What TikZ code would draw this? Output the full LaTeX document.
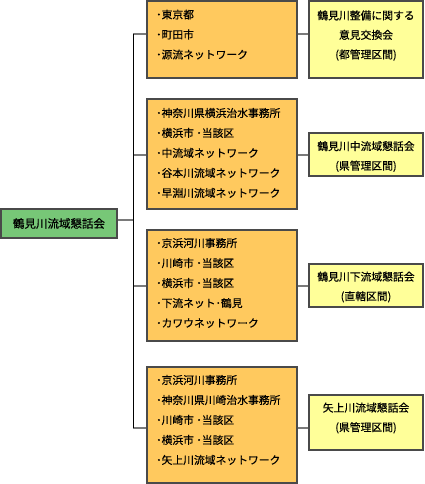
\documentclass[tikz,border=0pt]{standalone}
\usepackage{fontspec}
\setmainfont{Noto Sans CJK JP}[FakeBold=0.35]
\definecolor{ofill}{HTML}{FFC95E}
\definecolor{yfill}{HTML}{FFFF99}
\definecolor{gfill}{HTML}{77C777}
\definecolor{bord}{HTML}{4A4A4A}
\definecolor{branch}{HTML}{7A7A7A}
\begin{document}
\begin{tikzpicture}[x=1pt,y=-1pt,
  box/.style={draw=bord,line width=1.3pt,inner sep=0pt},
  listtext/.style={anchor=west,align=left,inner sep=0pt,font=\fontsize{10.8}{20}\selectfont},
  ctext/.style={anchor=center,align=center,inner sep=0pt,font=\fontsize{10.8}{19.5}\selectfont},
  trunk/.style={black,line width=1pt},
  arm/.style={branch,line width=1.3pt}]
\useasboundingbox (0,0) rectangle (425,484);
% green root
\node[box,fill=gfill,minimum width=116pt,minimum height=29pt] (root) at (59,223.5) {};
\node[ctext,font=\fontsize{11.5}{14}\selectfont] (roott) at (root.center) {鶴見川流域懇話会};
% orange boxes
\node[box,fill=ofill,minimum width=150pt,minimum height=77pt] (o1) at (222,39.5) {};
\node[box,fill=ofill,minimum width=150pt,minimum height=110pt] (o2) at (222,154) {};
\node[box,fill=ofill,minimum width=150pt,minimum height=111pt] (o3) at (222,285.5) {};
\node[box,fill=ofill,minimum width=150pt,minimum height=116pt] (o4) at (222,425) {};
\node[listtext] (t1) at (156,34.5) {･東京都\\･町田市\\･源流ネットワーク};
\node[listtext] (t2) at (156,153) {･神奈川県横浜治水事務所\\･横浜市 ･当該区\\･中流域ネットワーク\\･谷本川流域ネットワーク\\･早淵川流域ネットワーク};
\node[listtext] (t3) at (156,283) {･京浜河川事務所\\･川崎市 ･当該区\\･横浜市 ･当該区\\･下流ネット･鶴見\\･カワウネットワーク};
\node[listtext] (t4) at (156,420) {･京浜河川事務所\\･神奈川県川崎治水事務所\\･川崎市 ･当該区\\･横浜市 ･当該区\\･矢上川流域ネットワーク};
% yellow boxes
\node[box,fill=yfill,minimum width=114pt,minimum height=77pt] (y1) at (366,39.5) {};
\node[box,fill=yfill,minimum width=114pt,minimum height=43pt] (y2) at (366,154.5) {};
\node[box,fill=yfill,minimum width=114pt,minimum height=43pt] (y3) at (366,285.5) {};
\node[box,fill=yfill,minimum width=114pt,minimum height=55pt] (y4) at (366,422.5) {};
\node[ctext] (u1) at (366,35.5) {鶴見川整備に関する\\意見交換会\\(都管理区間)};
\node[ctext] (u2) at (366,156.5) {鶴見川中流域懇話会\\(県管理区間)};
\node[ctext] (u3) at (366,287) {鶴見川下流域懇話会\\(直轄区間)};
\node[ctext] (u4) at (366,418) {矢上川流域懇話会\\(県管理区間)};
% connectors
\coordinate (top) at (133,34);
\coordinate (bot) at (133,428);
\draw[arm] (root.east |- 0,220) -- (133,220);
\draw[arm] (top) -- (o1.west |- top);
\draw[arm] (133,155) -- (o2.west |- 0,155);
\draw[arm] (133,286) -- (o3.west |- 0,286);
\draw[arm] (bot) -- (o4.west |- bot);
\draw[trunk] (top) -- (bot);
\draw[arm] (o1.east |- 0,34) -- (y1.west |- 0,34);
\draw[arm] (o2.east |- 0,155) -- (y2.west |- 0,155);
\draw[arm] (o3.east |- 0,286) -- (y3.west |- 0,286);
\draw[arm] (o4.east |- 0,428) -- (y4.west |- 0,428);
\end{tikzpicture}
\end{document}
